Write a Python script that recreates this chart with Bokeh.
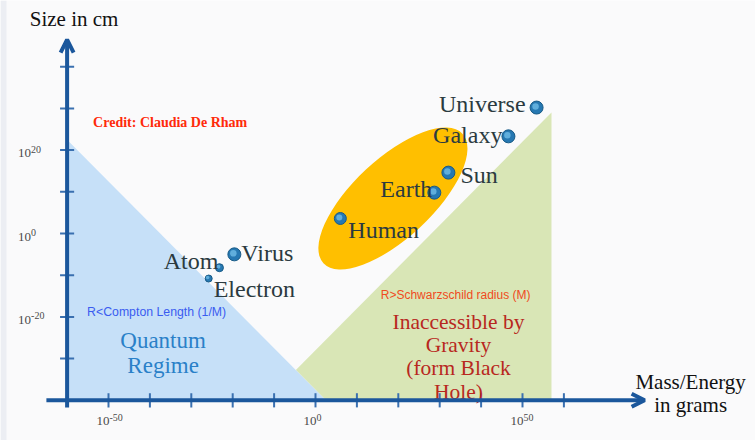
from bokeh.plotting import figure
from bokeh.models import Range1d, Arrow, OpenHead, ColumnDataSource, BoxAnnotation
from bokeh.core.properties import value
from bokeh.embed import file_html
from bokeh.resources import INLINE

# ---- data (log10 exponents) ----
objects = ["Universe", "Galaxy", "Sun", "Earth", "Human", "Virus", "Atom", "Electron"]
log_mass = [53.4, 46.6, 32.1, 28.7, 6.0, -19.6, -23.2, -25.8]
log_size = [30.2, 23.3, 14.6, 9.8, 3.6, -5.0, -8.2, -10.8]

x_ticks = [-50, -40, -30, -20, -10, 0, 10, 20, 30, 40, 50, 60]
x_label_ticks = [-50, 0, 50]
x_label_exps = ["-50", "0", "50"]
y_ticks = [-30, -20, -10, 0, 10, 20, 30, 40]
y_label_ticks = [20, 0, -20]
y_label_exps = ["20", "0", "-20"]

# axis extents
x_min, x_max = -60, 79.5
y_min, y_max = -40, 46.5

# regions: Compton length log R = -37.5 - log M ; Schwarzschild log R = log M - 28
compton_const = -37.5
schw_const = -28.0
green_right = 57.0

# Mass-scale ellipse (center, size, angle)
ell_x, ell_y, ell_w, ell_h, ell_angle = 18.7, 8.4, 45.9, 19.0, 43

# ---- figure geometry ----
W, H = 755, 440
SX, SY = 4.14, 4.17
X0_PIX, Y0_PIX = 315, 233

p = figure(width=W, height=H, output_backend="svg", toolbar_location=None,
           x_range=Range1d(-X0_PIX / SX, (W - X0_PIX) / SX),
           y_range=Range1d((Y0_PIX - H) / SY, Y0_PIX / SY),
           x_axis_type=None, y_axis_type=None, min_border=0)
p.grid.visible = False
p.outline_line_color = None
p.background_fill_color = "#fafafb"
p.border_fill_color = "#fafafb"
p.add_layout(BoxAnnotation(left=0, right=6, left_units="screen", right_units="screen",
                           fill_color="#eceef3", fill_alpha=1, line_color=None,
                           level="underlay"))

# green region (Schwarzschild)
xi = (compton_const - schw_const) / 2.0
yi = xi + schw_const
gx = [xi, green_right, green_right, compton_const - y_min]
gy = [yi, green_right + schw_const, y_min, y_min]
p.patch(gx, gy, fill_color="#d9e6b6", line_color=None)

# blue region (Compton)
bx = [x_min, x_min, compton_const - y_min]
by = [compton_const - x_min, y_min, y_min]
p.patch(bx, by, fill_color="#c6e0f8", line_color=None)

# ellipse
p.ellipse(x=[ell_x], y=[ell_y], width=ell_w, height=ell_h, angle=ell_angle,
          angle_units="deg", fill_color="#ffbf00", line_color=None)

# axes
axis_col = "#1b579c"
tick_col = "#3a70b0"
tick_half = 1.7
p.segment(x0=[x_min - tick_half] * len(y_ticks), x1=[x_min + tick_half] * len(y_ticks),
          y0=y_ticks, y1=y_ticks, line_color=tick_col, line_width=2)
p.segment(x0=x_ticks, x1=x_ticks, y0=[y_min - tick_half] * len(x_ticks),
          y1=[y_min + tick_half] * len(x_ticks), line_color=tick_col, line_width=2)

p.add_layout(Arrow(end=OpenHead(line_color=axis_col, line_width=4, size=13),
                   x_start=x_min - 5, y_start=y_min, x_end=x_max, y_end=y_min,
                   line_color=axis_col, line_width=4))
p.add_layout(Arrow(end=OpenHead(line_color=axis_col, line_width=4, size=13),
                   x_start=x_min, y_start=y_min - 1.7, x_end=x_min, y_end=y_max,
                   line_color=axis_col, line_width=4))

# tick labels: "10" plus raised exponent
serif = value("Liberation Serif")
lab_col = "#4a4a4a"
n = len(x_label_ticks)
p.text(x=x_label_ticks, y=[y_min] * n, text=["10"] * n, x_offset=1, y_offset=21,
       text_align="right", text_baseline="middle", text_font=serif,
       text_font_size="13px", text_color=lab_col)
p.text(x=x_label_ticks, y=[y_min] * n, text=x_label_exps, x_offset=1, y_offset=17,
       text_align="left", text_baseline="middle", text_font=serif,
       text_font_size="10px", text_color=lab_col)
n = len(y_label_ticks)
p.text(x=[x_min] * n, y=y_label_ticks, text=["10"] * n, x_offset=-36, y_offset=3,
       text_align="right", text_baseline="middle", text_font=serif,
       text_font_size="13px", text_color=lab_col)
p.text(x=[x_min] * n, y=y_label_ticks, text=y_label_exps, x_offset=-36, y_offset=-1,
       text_align="left", text_baseline="middle", text_font=serif,
       text_font_size="10px", text_color=lab_col)

# axis titles
p.text(x=[x_min], y=[y_max], text=["Size in cm"], x_offset=7, y_offset=-21,
       text_align="center", text_baseline="middle", text_font=serif,
       text_font_size="21px", text_color="#111111")
p.text(x=[x_max, x_max], y=[y_min, y_min], text=["Mass/Energy", "in grams"],
       x_offset=[46, 46], y_offset=[-18, 5], text_align="center",
       text_baseline="middle", text_font=serif, text_font_size="21px",
       text_color="#111111")

# region annotations
p.text(x=[x_min], y=[compton_const - x_min], text=["Credit: Claudia De Rham"],
       x_offset=26, y_offset=-17, text_align="left", text_baseline="middle",
       text_font=serif, text_font_style="bold", text_font_size="14px",
       text_color="#ff2a0a")
sans = value("Liberation Sans")
p.text(x=[x_min], y=[y_min], text=["R<Compton Length (1/M)"], x_offset=20,
       y_offset=-88, text_align="left", text_baseline="middle", text_font=sans,
       text_font_size="12.3px", text_color="#3a5cf0")
p.text(x=[x_min, x_min], y=[y_min, y_min], text=["Quantum", "Regime"],
       x_offset=[96, 96], y_offset=[-60, -35], text_align="center",
       text_baseline="middle", text_font=serif, text_font_size="23px",
       text_color="#2a80c8")
p.text(x=[green_right], y=[y_min], text=["R>Schwarzschild radius (M)"],
       x_offset=-21, y_offset=-105, text_align="right", text_baseline="middle",
       text_font=sans, text_font_size="12px", text_color="#f04a20")
p.text(x=[green_right] * 4, y=[y_min] * 4,
       text=["Inaccessible by", "Gravity", "(form Black", "Hole)"],
       x_offset=[-93] * 4, y_offset=[-78, -55, -32, -8], text_align="center",
       text_baseline="middle", text_font=serif, text_font_size="21.5px",
       text_color="#b8281e")

# objects (glossy balls)
sizes = [13, 13, 13, 13, 12, 13, 8, 7]
src = ColumnDataSource(dict(x=log_mass, y=log_size, name=objects, s=sizes,
                            hs=[s * 0.5 for s in sizes],
                            hx=[m - 0.25 for m in log_mass],
                            hy=[r + 0.25 for r in log_size]))
p.scatter(x="x", y="y", size="s", source=src, fill_color="#2678b2",
          line_color="#185a86", line_width=1)
p.scatter(x="hx", y="hy", size="hs", source=src, fill_color="#74c0ea",
          line_color=None, fill_alpha=0.75)

align = ["right", "right", "left", "right", "left", "left", "right", "left"]
dx = [-11, -6, 12, -2, 8, 7, -1, 5]
dy = [-4, -1, 2, -4, 12, -1, -7, 10]
for i in range(len(objects)):
    p.text(x=[log_mass[i]], y=[log_size[i]], text=[objects[i]],
           x_offset=dx[i], y_offset=dy[i], text_align=align[i],
           text_baseline="middle", text_font=serif, text_font_size="24px",
           text_color="#2b3a40")

open("out.html", "w").write(file_html(p, INLINE))
